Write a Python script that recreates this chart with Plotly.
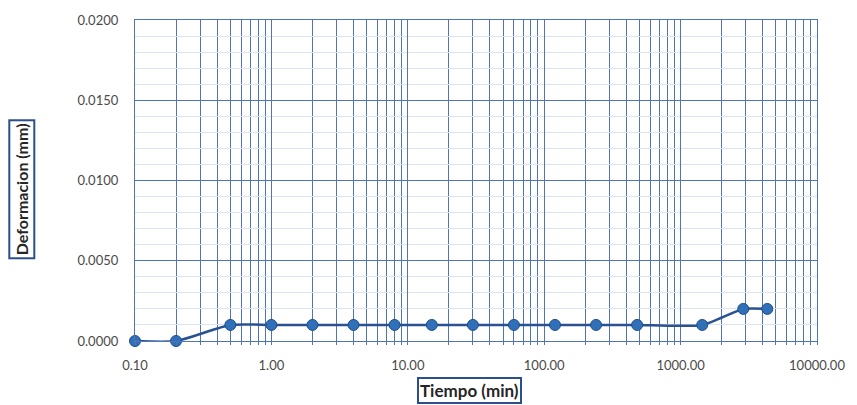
import plotly.graph_objects as go

# Consolidation reading: elapsed time (min) vs. deformation (mm)
tiempo_min = [0.1, 0.2, 0.5, 1, 2, 4, 8, 15, 30, 60, 120, 240, 480, 1440, 2880, 4320]
deformacion_mm = [0.0, 0.0, 0.001, 0.001, 0.001, 0.001, 0.001, 0.001, 0.001,
                  0.001, 0.001, 0.001, 0.001, 0.001, 0.002, 0.002]

x_tickvals = [0.1, 1, 10, 100, 1000, 10000]
x_ticktext = ["0.10", "1.00", "10.00", "100.00", "1000.00", "10000.00"]
y_tickvals = [0.0, 0.005, 0.010, 0.015, 0.020]
y_ticktext = ["0.0000", "0.0050", "0.0100", "0.0150", "0.0200"]

grid_blue = "#4f74b8"
font_family = "Lato, 'Open Sans', sans-serif"

fig = go.Figure()
fig.add_trace(go.Scatter(
    x=tiempo_min,
    y=deformacion_mm,
    mode="lines+markers",
    line=dict(color="#2a5192", width=2.5, shape="spline", smoothing=0.6),
    marker=dict(size=11, color="#2f70b8", line=dict(color="#1f4e8c", width=1)),
    cliponaxis=False,
    showlegend=False,
))

fig.update_xaxes(
    type="log",
    range=[-1, 4],
    tickvals=x_tickvals,
    ticktext=x_ticktext,
    showgrid=True,
    gridcolor=grid_blue,
    gridwidth=1.2,
    minor=dict(dtick="D1", showgrid=True, gridcolor=grid_blue, gridwidth=1.1,
               ticks="outside", ticklen=3, tickcolor=grid_blue),
    showline=True,
    linecolor=grid_blue,
    linewidth=1.2,
    mirror=True,
    zeroline=False,
    ticks="",
    ticklabelstandoff=12,
    tickfont=dict(family=font_family, size=13, color="#4a4a4a"),
)

fig.update_yaxes(
    range=[0, 0.02],
    tickvals=y_tickvals,
    ticktext=y_ticktext,
    showgrid=True,
    gridcolor=grid_blue,
    gridwidth=1.2,
    minor=dict(dtick=0.001, showgrid=True, gridcolor="#dbe2f0", gridwidth=1),
    showline=True,
    linecolor=grid_blue,
    linewidth=1.2,
    mirror=True,
    zeroline=False,
    ticks="",
    ticklabelstandoff=13,
    tickfont=dict(family=font_family, size=13, color="#4a4a4a"),
)

# Boxed axis titles
fig.add_annotation(
    text="<b>Tiempo (min)</b>",
    xref="paper", yref="paper",
    x=0.49, y=-0.153, xanchor="center", yanchor="middle",
    showarrow=False,
    font=dict(family=font_family, size=17, color="#262626"),
    bordercolor="#2a4f8a", borderwidth=2, borderpad=1,
    bgcolor="white",
)
fig.add_annotation(
    text="<b>Deformacion (mm)</b>",
    xref="paper", yref="paper",
    x=-0.166, y=0.472, xanchor="center", yanchor="middle",
    textangle=-90,
    showarrow=False,
    font=dict(family=font_family, size=16, color="#262626"),
    bordercolor="#2a4f8a", borderwidth=2, borderpad=2,
    bgcolor="white",
)

fig.update_layout(
    width=857,
    height=405,
    margin=dict(l=135, r=33, t=15, b=64),
    paper_bgcolor="white",
    plot_bgcolor="white",
)

fig.write_html("out.html")
